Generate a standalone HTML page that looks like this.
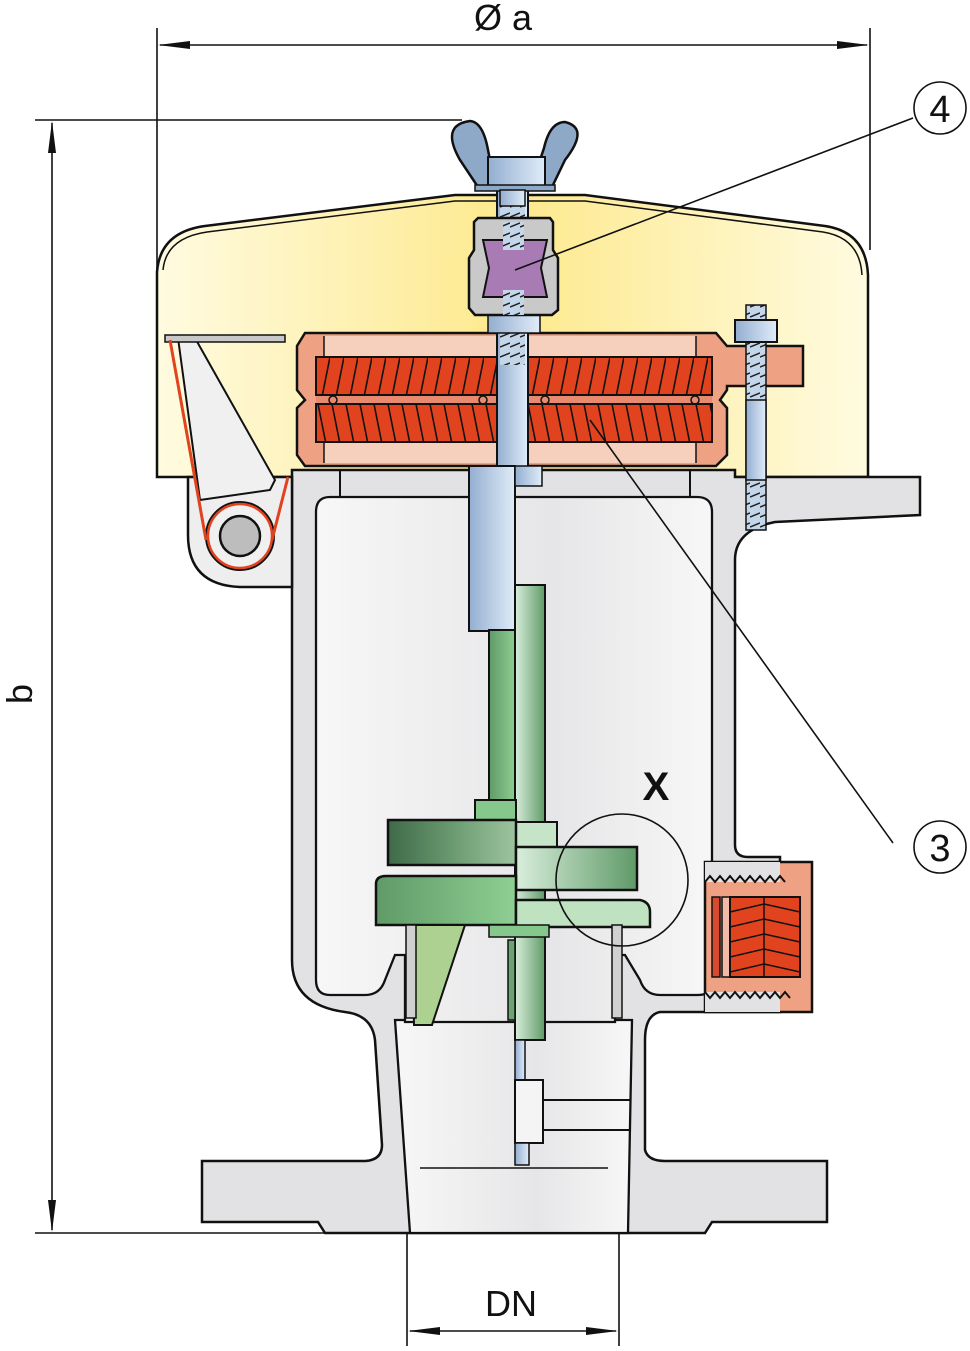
<!DOCTYPE html>
<html><head><meta charset="utf-8">
<style>
html,body{margin:0;padding:0;background:#fff;}
svg{display:block;}
text{font-family:"Liberation Sans",sans-serif;}
</style></head>
<body>
<svg width="970" height="1351" viewBox="0 0 970 1351" xmlns="http://www.w3.org/2000/svg">
<defs>
<linearGradient id="yel" x1="0" x2="1" y1="0" y2="0">
<stop offset="0" stop-color="#fffbe0"/><stop offset="0.5" stop-color="#fde98c"/><stop offset="1" stop-color="#fffbe0"/>
</linearGradient>
<linearGradient id="cav" x1="0" x2="1">
<stop offset="0" stop-color="#f7f7f7"/><stop offset="0.6" stop-color="#e6e6e8"/><stop offset="1" stop-color="#f7f7f7"/>
</linearGradient>
<linearGradient id="blue" x1="0" x2="1">
<stop offset="0" stop-color="#93aed0"/><stop offset="1" stop-color="#e0ecf8"/>
</linearGradient>
<linearGradient id="grn" x1="0" x2="1">
<stop offset="0" stop-color="#5f9a68"/><stop offset="1" stop-color="#8fcf92"/>
</linearGradient>
<linearGradient id="grnL" x1="0" x2="1">
<stop offset="0" stop-color="#3f6a48"/><stop offset="0.5" stop-color="#6a9a70"/><stop offset="1" stop-color="#9ec49f"/>
</linearGradient>
<linearGradient id="grnR" x1="0" x2="1">
<stop offset="0" stop-color="#d9eedb"/><stop offset="1" stop-color="#5f9a68"/>
</linearGradient>
<pattern id="coil" width="14" height="40" patternUnits="userSpaceOnUse" patternTransform="translate(316,357)">
<rect width="14" height="40" fill="#e2431f"/>
<line x1="6" y1="40" x2="14" y2="0" stroke="#111" stroke-width="1.6"/>
</pattern>
<pattern id="coil2" width="14" height="40" patternUnits="userSpaceOnUse" patternTransform="translate(316,404)">
<rect width="14" height="40" fill="#e2431f"/>
<line x1="2" y1="0" x2="10" y2="40" stroke="#111" stroke-width="1.6"/>
</pattern>
<pattern id="thr" width="10" height="10" patternUnits="userSpaceOnUse">
<rect width="10" height="10" fill="#c4d6ea"/>
<line x1="0" y1="7" x2="10" y2="3" stroke="#222" stroke-width="1.5"/>
</pattern>
</defs>

<!-- dimension lines -->
<g stroke="#111" stroke-width="1.6" fill="none">
<line x1="157" y1="28" x2="157" y2="270"/>
<line x1="870" y1="28" x2="870" y2="250"/>
<line x1="160" y1="45" x2="867" y2="45"/>
<line x1="35" y1="120" x2="462" y2="120"/>
<line x1="35" y1="1233" x2="325" y2="1233"/>
<line x1="52" y1="123" x2="52" y2="1230"/>
<line x1="407" y1="1170" x2="407" y2="1346"/>
<line x1="619" y1="1170" x2="619" y2="1346"/>
<line x1="410" y1="1331" x2="616" y2="1331"/>
</g>
<g fill="#111">
<polygon points="158,45 190,41 190,49"/>
<polygon points="869,45 837,41 837,49"/>
<polygon points="52,121 48,153 56,153"/>
<polygon points="52,1232 48,1200 56,1200"/>
<polygon points="408,1331 440,1327 440,1335"/>
<polygon points="618,1331 586,1327 586,1335"/>
</g>
<text x="503" y="30" font-size="36" text-anchor="middle" fill="#111">Ø a</text>
<text x="511" y="1316" font-size="36" text-anchor="middle" fill="#111">DN</text>
<text x="32" y="694" font-size="36" text-anchor="middle" fill="#111" transform="rotate(-90 32 694)">b</text>

<!-- hood -->
<path d="M157,477 L157,272 Q160,232 205,226 L455,195 L585,195 L825,226 Q866,232 868,275 L868,477 Z" fill="url(#yel)" stroke="#111" stroke-width="2.5"/>
<path d="M163,270 Q166,238 207,232 L455,201 L585,201 L823,232 Q860,238 862,275" fill="none" stroke="#111" stroke-width="1.5"/>

<!-- body outer -->
<path d="M292,470 L735,470 L735,477 L920,477 L920,515 L775,522 Q735,530 735,560 L735,845 Q735,857 748,857 L780,857 L780,1012 L660,1012 Q645,1015 645,1040 L645,1150 Q648,1161 665,1161 L827,1161 L827,1222 L712,1222 L705,1233 L325,1233 L318,1222 L202,1222 L202,1161 L365,1161 Q382,1160 382,1145 L375,1040 Q372,1015 345,1012 Q292,1005 292,960 Z" fill="#e2e2e4" stroke="#111" stroke-width="2.5"/>
<!-- bore -->
<path d="M395,1020 L632,1020 L628,1233 L410,1233 Z" fill="url(#cav)" stroke="#111" stroke-width="2.3"/>
<line x1="420" y1="1168" x2="608" y2="1168" stroke="#111" stroke-width="1.5"/>
<!-- cavity -->
<path d="M330,497 L697,497 Q712,497 712,512 L712,985 Q712,995 697,995 L660,995 Q645,995 640,980 L625,955 L615,955 L615,1022 L405,1022 L405,955 L395,955 L385,980 Q380,995 365,995 L330,995 Q316,995 316,980 L316,512 Q316,497 330,497 Z" fill="url(#cav)" stroke="#111" stroke-width="2.3"/>
<line x1="340" y1="470" x2="340" y2="497" stroke="#111" stroke-width="2"/>
<line x1="690" y1="470" x2="690" y2="497" stroke="#111" stroke-width="2"/>

<!-- hinge -->
<path d="M188,477 L292,477 L292,587 L240,587 Q188,585 188,535 Z" fill="#eeeeee" stroke="#111" stroke-width="2.5"/>
<polygon points="178,338 195,338 275,480 270,490 200,500" fill="#f0f0f0" stroke="#111" stroke-width="2"/>
<rect x="165" y="335" width="120" height="7" fill="#c8c8c8" stroke="#111" stroke-width="1.5"/>
<circle cx="240" cy="536" r="34" fill="#f0f0f0" stroke="#111" stroke-width="2"/>
<circle cx="240" cy="536" r="32" fill="none" stroke="#e2431f" stroke-width="2.5"/>
<circle cx="240" cy="536" r="20" fill="#bdbdbd" stroke="#111" stroke-width="2.5"/>
<polyline points="170,340 206,540" stroke="#e2431f" stroke-width="3" fill="none"/>
<polyline points="288,477 272,540" stroke="#e2431f" stroke-width="3" fill="none"/>

<!-- spring pad -->
<path d="M305,333 L716,333 L727,346 L803,346 L803,386 L727,386 L727,390 L720,400 L727,408 L727,455 L716,466 L305,466 L297,455 L297,408 L305,400 L297,390 L297,346 Z" fill="#efa283" stroke="#111" stroke-width="2.5"/>
<rect x="324" y="336" width="372" height="127" fill="#f6cfbd"/>
<line x1="324" y1="336" x2="324" y2="463" stroke="#111" stroke-width="1.5"/>
<line x1="696" y1="336" x2="696" y2="463" stroke="#111" stroke-width="1.5"/>
<rect x="316" y="357" width="396" height="38" fill="url(#coil)" stroke="#111" stroke-width="2"/>
<rect x="316" y="404" width="396" height="38" fill="url(#coil2)" stroke="#111" stroke-width="2"/>
<rect x="316" y="396" width="396" height="7" fill="#e88a6f"/>
<g fill="none" stroke="#111" stroke-width="1.5">
<circle cx="333" cy="400" r="4"/><circle cx="483" cy="400" r="4"/><circle cx="545" cy="400" r="4"/><circle cx="695" cy="400" r="4"/>
</g>

<!-- right bolt -->
<rect x="746" y="305" width="20" height="225" fill="url(#thr)" stroke="#111" stroke-width="1.5"/>
<rect x="746" y="400" width="20" height="80" fill="url(#blue)" stroke="#111" stroke-width="1.5"/>
<rect x="735" y="320" width="42" height="22" fill="url(#blue)" stroke="#111" stroke-width="2"/>

<!-- central stem -->
<rect x="497" y="190" width="31" height="290" fill="url(#blue)" stroke="#111" stroke-width="2"/>
<rect x="500" y="200" width="25" height="40" fill="url(#thr)"/>
<rect x="500" y="295" width="25" height="70" fill="url(#thr)"/>
<rect x="488" y="312" width="52" height="21" fill="url(#blue)" stroke="#111" stroke-width="1.5"/>
<path d="M478,218 L550,218 L553,222 L553,250 L558,258 L558,310 L552,315 L475,315 L469,308 L469,258 L474,250 L474,222 Z" fill="#c9c9c9" stroke="#111" stroke-width="2.5"/>
<path d="M483,240 L547,240 L541,268 L547,297 L483,297 L489,268 Z" fill="#a97bb5" stroke="#111" stroke-width="2"/>
<rect x="503" y="222" width="21" height="28" fill="url(#thr)"/>
<rect x="503" y="290" width="21" height="25" fill="url(#thr)"/>
<!-- wing nut -->
<path d="M478,187 L460,160 Q440,125 470,121 Q483,122 488,150 L490,160 L540,160 L544,148 Q550,122 565,122 Q590,128 565,160 L552,187 Z" fill="#8ea8c8" stroke="#111" stroke-width="2.5"/>
<rect x="488" y="157" width="57" height="30" fill="url(#blue)" stroke="#111" stroke-width="2"/>
<rect x="475" y="185" width="80" height="6" fill="#8ea8c8" stroke="#111" stroke-width="1.5"/>
<rect x="500" y="190" width="25" height="16" fill="url(#blue)" stroke="#111" stroke-width="1.5"/>
<!-- lower blue tube -->
<rect x="469" y="466" width="46" height="165" fill="url(#blue)" stroke="#111" stroke-width="2"/>
<rect x="515" y="466" width="27" height="20" fill="url(#blue)" stroke="#111" stroke-width="1.5"/>

<!-- green assembly -->
<rect x="489" y="630" width="27" height="175" fill="url(#grn)" stroke="#111" stroke-width="2"/>
<rect x="515" y="585" width="30" height="455" fill="url(#grnR)" stroke="#111" stroke-width="2"/>
<rect x="475" y="800" width="41" height="22" fill="#86c88b" stroke="#111" stroke-width="2"/>
<rect x="515" y="822" width="42" height="25" fill="#c6e4c8" stroke="#111" stroke-width="2"/>
<rect x="388" y="820" width="128" height="45" fill="url(#grnL)" stroke="#111" stroke-width="2.5"/>
<rect x="516" y="847" width="121" height="43" fill="url(#grnR)" stroke="#111" stroke-width="2.5"/>
<path d="M386,876 L516,876 L516,925 L376,925 L376,884 Q376,876 386,876 Z" fill="url(#grn)" stroke="#111" stroke-width="2.5"/>
<path d="M516,900 L640,900 Q650,902 650,912 L650,927 L516,927 Z" fill="#bfe2c1" stroke="#111" stroke-width="2.5"/>
<polygon points="412,925 465,925 432,1025 414,1025" fill="#acd190" stroke="#111" stroke-width="2"/>
<rect x="489" y="925" width="60" height="12" fill="#86c88b" stroke="#111" stroke-width="1.5"/>
<rect x="406" y="925" width="10" height="93" fill="#d0d0d0" stroke="#111" stroke-width="1.5"/>
<rect x="612" y="925" width="10" height="93" fill="#d0d0d0" stroke="#111" stroke-width="1.5"/>
<rect x="508" y="940" width="7" height="80" fill="#6aa571" stroke="#111" stroke-width="1.5"/>
<rect x="515" y="1040" width="10" height="40" fill="url(#blue)" stroke="#111" stroke-width="1.5"/>
<rect x="515" y="1080" width="28" height="63" fill="#f4f4f4" stroke="#111" stroke-width="2"/>
<rect x="515" y="1143" width="14" height="22" fill="url(#blue)" stroke="#111" stroke-width="1.5"/>
<path d="M543,1100 L630,1100 M543,1130 L630,1130" stroke="#111" stroke-width="2"/>

<!-- port -->
<rect x="705" y="862" width="107" height="150" fill="#efa283" stroke="#111" stroke-width="2.5"/>
<rect x="705" y="862" width="75" height="20" fill="#e2e2e4"/>
<rect x="705" y="992" width="75" height="20" fill="#e2e2e4"/>
<path d="M705,882 l5,-6 5,6 5,-6 5,6 5,-6 5,6 5,-6 5,6 5,-6 5,6 5,-6 5,6 5,-6 5,6 5,-6 5,6 M705,992 l5,6 5,-6 5,6 5,-6 5,6 5,-6 5,6 5,-6 5,6 5,-6 5,6 5,-6 5,6 5,-6 5,6 5,-6 5,6" stroke="#111" stroke-width="2" fill="none"/>
<rect x="712" y="897" width="8" height="80" fill="#d84a30" stroke="#111" stroke-width="1.5"/>
<rect x="722" y="897" width="8" height="80" fill="#f2b9a6" stroke="#111" stroke-width="1.5"/>
<rect x="730" y="897" width="70" height="80" fill="#e2431f" stroke="#111" stroke-width="2"/>
<line x1="764" y1="897" x2="764" y2="977" stroke="#111" stroke-width="1.5"/>
<g stroke="#111" stroke-width="1.5">
<line x1="730" y1="912" x2="764" y2="904"/><line x1="730" y1="927" x2="764" y2="919"/><line x1="730" y1="942" x2="764" y2="934"/><line x1="730" y1="957" x2="764" y2="949"/><line x1="730" y1="972" x2="764" y2="964"/>
<line x1="764" y1="904" x2="800" y2="912"/><line x1="764" y1="919" x2="800" y2="927"/><line x1="764" y1="934" x2="800" y2="942"/><line x1="764" y1="949" x2="800" y2="957"/><line x1="764" y1="964" x2="800" y2="972"/>
</g>

<!-- callouts -->
<g stroke="#111" stroke-width="1.6" fill="none">
<line x1="913" y1="118" x2="515" y2="270"/>
<line x1="893" y1="843" x2="590" y2="420"/>
<circle cx="940" cy="108" r="26" fill="#fff"/>
<circle cx="940" cy="847" r="26" fill="#fff"/>
<circle cx="622" cy="880" r="66"/>
</g>
<text x="940" y="122" font-size="38" text-anchor="middle" fill="#111">4</text>
<text x="940" y="861" font-size="38" text-anchor="middle" fill="#111">3</text>
<text x="656" y="800" font-size="40" font-weight="bold" text-anchor="middle" fill="#111">X</text>
</svg>
</body></html>
